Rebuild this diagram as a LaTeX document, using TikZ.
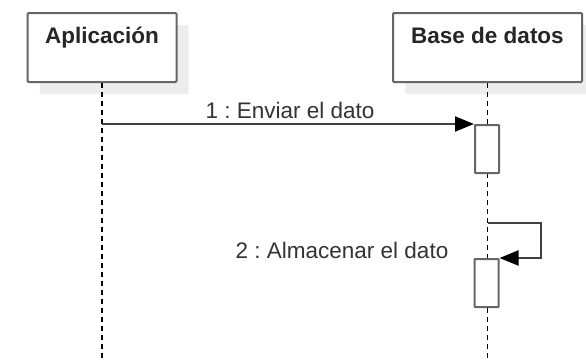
\documentclass[tikz,border=0pt]{standalone}
\usepackage{fontspec}
\setmainfont{Liberation Sans}
\usetikzlibrary{arrows.meta,shadows}
\frenchspacing

\begin{document}
\begin{tikzpicture}
[
x=1pt, y=-1pt,
every node/.style={font=\fontsize{22.5}{27}\selectfont},
Actor/.style={rectangle, draw=black!60, fill=white, line width=2pt, rounded corners=1pt, minimum width=149pt, inner sep=0pt, text height=30pt, text depth=39pt, font=\fontsize{22.5}{27}\selectfont\bfseries, text=black!85, drop shadow={shadow xshift=12pt, shadow yshift=-12pt, fill=black!7, opacity=1}},
Activation/.style={rectangle, draw=black!60, fill=white, line width=2pt, rounded corners=0.5pt, minimum width=24pt, minimum height=48pt, inner sep=0pt},
LifeLine/.style={draw=black, line width=1.4pt, dash pattern=on 5pt off 4pt},
Message/.style={draw=black!75, line width=2pt, -{Triangle[length=19pt,width=15pt,color=black]}},
MsgLabel/.style={text=black!80, inner sep=0pt},
]

\useasboundingbox (0,0) rectangle (586,360);

\node[Actor, anchor=north, minimum width=149pt] (app) at (102,12) {Aplicación};
\node[Actor, anchor=north, minimum width=189pt] (db) at (487.5,12) {Base de datos};

\coordinate (appEnd) at (102,360);
\coordinate (dbEnd) at (487.5,360);
\draw[LifeLine] (app.south) -- (appEnd);
\draw[LifeLine] (db.south) -- (dbEnd);

\node[Activation] (actOne) at (487,149) {};
\node[Activation] (actTwo) at (486.5,283) {};

% messages
\draw[Message] (app.south |- actOne.north west) -- (actOne.north west);
\node[MsgLabel] (msgOne) at (290,110) {1 : Enviar el dato};

\coordinate (selfStart) at (488,223);
\draw[Message] (selfStart) -- ++(53,0) |- (actTwo.north east);
\node[MsgLabel] (msgTwo) at (342,250) {2 : Almacenar el dato};

\end{tikzpicture}
\end{document}
